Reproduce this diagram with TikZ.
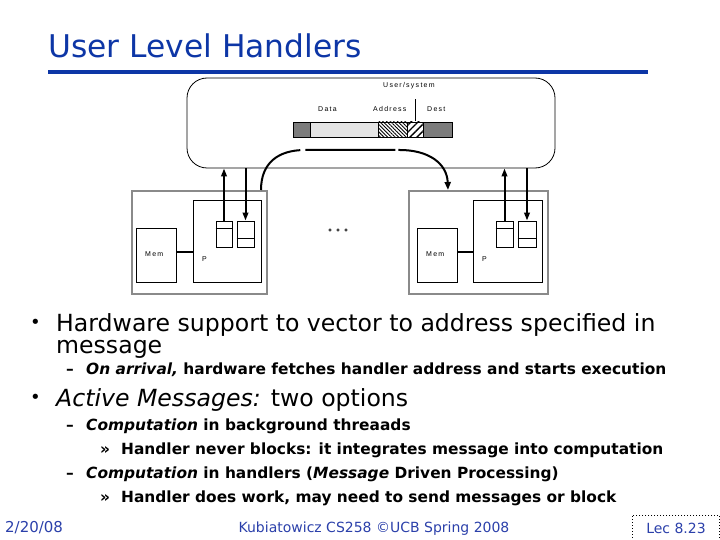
\documentclass[tikz,border=0pt]{standalone}
\usepackage{fontspec}
\setmainfont{DejaVu Sans}
\newfontfamily\diagfont[LetterSpace=18]{Liberation Sans}
\usetikzlibrary{arrows.meta,patterns.meta}
\definecolor{hdBlue}{HTML}{0D36A6}
\definecolor{ftBlue}{HTML}{2B40AA}
\definecolor{nodeGray}{HTML}{8A8A8A}
\definecolor{segDark}{HTML}{7C7C7C}
\definecolor{segLight}{HTML}{E4E4E4}
\tikzset{
 slide/.style={line cap=butt,line join=miter},
 titletext/.style={font=\fontsize{31.3}{34}\selectfont,text=hdBlue,anchor=base west,inner sep=0pt},
 bodytext/.style={font=\fontsize{23.6}{26}\selectfont,anchor=base west,inner sep=0pt},
 bulletmark/.style={font=\fontsize{18}{20}\selectfont,anchor=base west,inner sep=0pt},
 subtext/.style={font=\fontsize{15.4}{18}\selectfont\bfseries,anchor=base west,inner sep=0pt},
 foottext/.style={font=\fontsize{14}{16}\selectfont,text=ftBlue,anchor=base,inner sep=0pt},
 diaglabel/.style={font=\diagfont\fontsize{7}{8}\selectfont,inner sep=0pt,anchor=base west},
 sysbox/.style={draw,line width=.8pt,rounded corners=20pt,minimum width=368pt,minimum height=90pt,inner sep=0pt},
 nodebox/.style={draw=nodeGray,line width=2pt,inner sep=0pt},
 unitbox/.style={draw,line width=.8pt,inner sep=0pt},
 seg/.style={draw,line width=.8pt,inner sep=0pt,minimum height=15pt},
 link/.style={line width=2pt},
 flow/.style={line width=2pt,-{Triangle[length=8pt,width=5.5pt]}},
 msgflow/.style={line width=2pt,dash pattern=on 63pt off 5pt on 90pt off 3pt on 120pt,-{Triangle[length=8pt,width=6pt]}},
 dotmark/.style={draw,line width=.6pt,circle,inner sep=0pt,minimum size=2.6pt}
}

\begin{document}
\begin{tikzpicture}[slide,x=1pt,y=-1pt]
 \useasboundingbox (0,0) rectangle (720,540);
 % title
 \node[titletext] (title) at (48,58) {User Level Handlers};
 \draw[hdBlue,line width=3.5pt] (48,72) -- (648,72);
 % user/system box and message
 \node[sysbox] (sys) at (371,123) {};
 \node[diaglabel] (usr) at (383,88) {User/system};
 \node[diaglabel] (data) at (318,112) {Data};
 \node[diaglabel] (addr) at (373,112) {Address};
 \node[diaglabel] (dest) at (427,112) {Dest};
 \node[seg,fill=segDark,minimum width=17pt] (segA) at (301.5,129.5) {};
 \node[seg,fill=segLight,minimum width=68pt] (segB) at (344,129.5) {};
 \node[seg,pattern={Lines[angle=-45,distance=2.6pt,line width=.9pt]},minimum width=29pt] (segC) at (392.5,129.5) {};
 \node[seg,pattern={Lines[angle=45,distance=5pt,line width=1.4pt]},minimum width=16pt] (segD) at (415,129.5) {};
 \node[seg,fill=segDark,minimum width=29pt] (segE) at (437.5,129.5) {};
 \coordinate (usrTick) at (415,99);
 \draw[line width=.8pt] (segD.north) -- (usrTick);
 % left processing node
 \node[nodebox,minimum width=135pt,minimum height=103pt] (lnode) at (199.5,242.5) {};
 \node[unitbox,minimum width=40pt,minimum height=54pt] (lmem) at (156,255) {};
 \node[unitbox,minimum width=68pt,minimum height=82pt] (lproc) at (227,241) {};
 \node[unitbox,minimum width=16pt,minimum height=26pt] (lbufa) at (224,234) {};
 \node[unitbox,minimum width=17pt,minimum height=26pt] (lbufb) at (245.5,234) {};
 \node[diaglabel] (lmemlbl) at (145,256) {Mem};
 \node[diaglabel] (lproclbl) at (202,261) {P};
 \draw[line width=.8pt] ([yshift=-8pt]lbufa.north west) -- ([yshift=-8pt]lbufa.north east);
 \draw[line width=.8pt] ([yshift=9pt]lbufb.south west) -- ([yshift=9pt]lbufb.south east);
 \draw[link] ([yshift=3pt]lmem.east) -- ([yshift=3pt]lmem.east -| lproc.west);
 % right processing node
 \node[nodebox,minimum width=139pt,minimum height=103pt] (rnode) at (478.5,242.5) {};
 \node[unitbox,minimum width=40pt,minimum height=54pt] (rmem) at (437,255) {};
 \node[unitbox,minimum width=69pt,minimum height=82pt] (rproc) at (507.5,241) {};
 \node[unitbox,minimum width=17pt,minimum height=26pt] (rbufa) at (504.5,234) {};
 \node[unitbox,minimum width=18pt,minimum height=26pt] (rbufb) at (527,234) {};
 \node[diaglabel] (rmemlbl) at (426,256) {Mem};
 \node[diaglabel] (rproclbl) at (482,261) {P};
 \draw[line width=.8pt] ([yshift=-8pt]rbufa.north west) -- ([yshift=-8pt]rbufa.north east);
 \draw[line width=.8pt] ([yshift=9pt]rbufb.south west) -- ([yshift=9pt]rbufb.south east);
 \draw[link] ([yshift=3pt]rmem.east) -- ([yshift=3pt]rmem.east -| rproc.west);
 % network ports
 \draw[flow] (lbufa.north) -- (lbufa.north |- sys.south);
 \draw[flow] (lbufb.north |- sys.south) -- (lbufb.north);
 \draw[flow] (rbufa.north) -- (rbufa.north |- sys.south);
 \draw[flow] (rbufb.north |- sys.south) -- (rbufb.north);
 % message path
 \coordinate (arcS) at ([xshift=-7pt]lnode.north east);
 \coordinate (arcE) at (448,190);
 \draw[msgflow] (arcS) .. controls (261,163) and (278,150) .. (305,150) -- (400,150)
   .. controls (428,150) and (447,163) .. (arcE);
 \foreach \x in {330,338,346}{\node[dotmark] at (\x,230) {};}
 % bullets
 \node[bulletmark] (dot1) at (30,328) {•};
 \node[bodytext] (h1) at (56,331) {Hardware support to vector to address specified in};
 \node[bodytext] (h1b) at (56,353) {message};
 \node[subtext] (s1d) at (66,374) {–};
 \node[subtext] (s1) at (86,374) {{\itshape On arrival,} hardware fetches handler address and starts execution};
 \node[bulletmark] (dot2) at (30,403) {•};
 \node[bodytext] (h2) at (56,406) {{\itshape Active Messages:} two options};
 \node[subtext] (s2d) at (66,430) {–};
 \node[subtext] (s2) at (86,430) {{\itshape Computation} in background threaads};
 \node[subtext] (t1d) at (100,454) {»};
 \node[subtext] (t1) at (121,454) {Handler never blocks: it integrates message into computation};
 \node[subtext] (s3d) at (66,478) {–};
 \node[subtext] (s3) at (86,478) {{\itshape Computation} in handlers ({\itshape Message} Driven Processing)};
 \node[subtext] (t2d) at (100,502) {»};
 \node[subtext] (t2) at (121,502) {Handler does work, may need to send messages or block};
 % footer
 \node[foottext,anchor=base west,font=\fontsize{15}{17}\selectfont] (date) at (5,532) {2/20/08};
 \node[foottext] (course) at (374,532) {Kubiatowicz CS258 ©UCB Spring 2008};
 \node[draw,dotted,line width=1pt,minimum width=87pt,minimum height=32pt,inner sep=0pt] (lecbox) at (675.5,531) {};
 \node[foottext] (lec) at (676,533) {Lec 8.23};
\end{tikzpicture}
\end{document}
